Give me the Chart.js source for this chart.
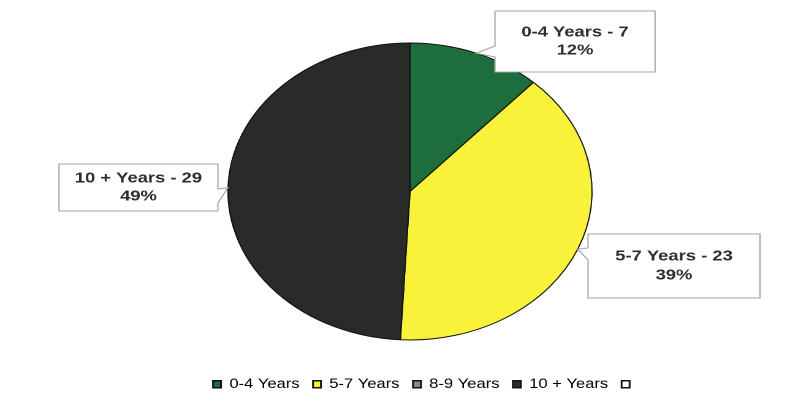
<!DOCTYPE html>
<html><head><meta charset="utf-8">
<script src="https://cdn.jsdelivr.net/npm/chart.js@4"></script>
<style>
html,body{margin:0;padding:0;background:#ffffff;overflow:hidden;}
#wrap{width:660px;height:414px;transform:scaleX(1.22576);transform-origin:0 0;}
</style></head><body>
<div id="wrap"><canvas id="c" width="660" height="414"></canvas></div>
<script>
// ---- data ----
const categories = ['0-4 Years', '5-7 Years', '8-9 Years', '10 + Years', ''];
const values = [7, 23, 0, 29, 0];
const sliceColors = ['#1e6d3c', '#f8f23a', '#8a8a8a', '#282b28', '#ffffff'];

// ---- callout label plugin ----
const calloutPlugin = {
  id: 'callouts',
  afterDatasetsDraw(chart, args, opts) {
    const ctx = chart.ctx;
    const meta = chart.getDatasetMeta(0);
    const data = chart.data.datasets[0].data;
    const labels = chart.data.labels;
    const total = data.reduce((a, b) => a + b, 0);
    opts.boxes.forEach(b => {
      const arc = meta.data[b.index];
      const p = arc.getProps(['x', 'y', 'startAngle', 'endAngle', 'outerRadius'], true);
      const mid = (p.startAngle + p.endAngle) / 2;
      const tx = p.x + p.outerRadius * Math.cos(mid);
      const ty = p.y + p.outerRadius * Math.sin(mid);
      const L = b.x, R = b.x + b.w, T = b.y, B = b.y + b.h;
      ctx.save();
      ctx.beginPath();
      ctx.moveTo(L, T); ctx.lineTo(R, T);
      if (b.side === 'right') { ctx.lineTo(R, b.b0); ctx.lineTo(tx, ty); ctx.lineTo(R, b.b1); }
      ctx.lineTo(R, B); ctx.lineTo(L, B);
      if (b.side === 'left') { ctx.lineTo(L, b.b1); ctx.lineTo(tx, ty); ctx.lineTo(L, b.b0); }
      ctx.closePath();
      ctx.fillStyle = '#ffffff';
      ctx.fill();
      ctx.strokeStyle = '#a2a2a2';
      ctx.lineWidth = 1;
      ctx.stroke();
      const v = data[b.index];
      const line1 = labels[b.index] + ' - ' + v;
      const line2 = Math.round(v / total * 100) + '%';
      const cx = (L + R) / 2, cy = (T + B) / 2;
      ctx.font = 'bold 15px "Liberation Sans", Arial, sans-serif';
      ctx.fillStyle = '#2e2e2e';
      ctx.textAlign = 'center';
      ctx.textBaseline = 'middle';
      ctx.fillText(line1, cx, cy - b.gap);
      ctx.fillText(line2, cx, cy + b.gap);
      ctx.restore();
    });
  }
};

// ---- legend shift plugin ----
const legendShift = {
  id: 'legendShift',
  afterLayout(chart, args, opts) {
    if (chart.legend) { chart.legend.left += opts.dx; chart.legend.right += opts.dx; }
  }
};

new Chart(document.getElementById('c'), {
  type: 'pie',
  data: {
    labels: categories,
    datasets: [{
      data: values,
      backgroundColor: sliceColors,
      borderColor: '#111111',
      borderWidth: 1,
      radius: 148.5
    }]
  },
  options: {
    responsive: false,
    animation: false,
    devicePixelRatio: 2,
    layout: { padding: { left: 9, right: 0, top: 16.5, bottom: 13 } },
    plugins: {
      tooltip: { enabled: false },
      legend: {
        position: 'bottom',
        labels: {
          boxWidth: 6.5,
          boxHeight: 7,
          padding: 11,
          color: '#3a3a3a',
          font: { family: '"Liberation Sans", Arial, sans-serif', size: 13.5 },
          generateLabels(chart) {
            return chart.data.labels.map((t, i) => ({
              text: t,
              fillStyle: sliceColors[i],
              strokeStyle: '#111111',
              lineWidth: 1.5,
              hidden: false,
              index: i
            }));
          }
        }
      },
      legendShift: { dx: 12.6 },
      callouts: {
        boxes: [
          { index: 0, x: 403.8, y: 11, w: 130.6, h: 61, side: 'left', b0: 46, b1: 57, gap: 9 },
          { index: 3, x: 48.1, y: 164, w: 129.7, h: 47, side: 'right', b0: 189, b1: 203, gap: 9 },
          { index: 1, x: 479.7, y: 234, w: 140.3, h: 64, side: 'left', b0: 248, b1: 260, gap: 9.5 }
        ]
      }
    }
  },
  plugins: [calloutPlugin, legendShift]
});
</script>
</body></html>
